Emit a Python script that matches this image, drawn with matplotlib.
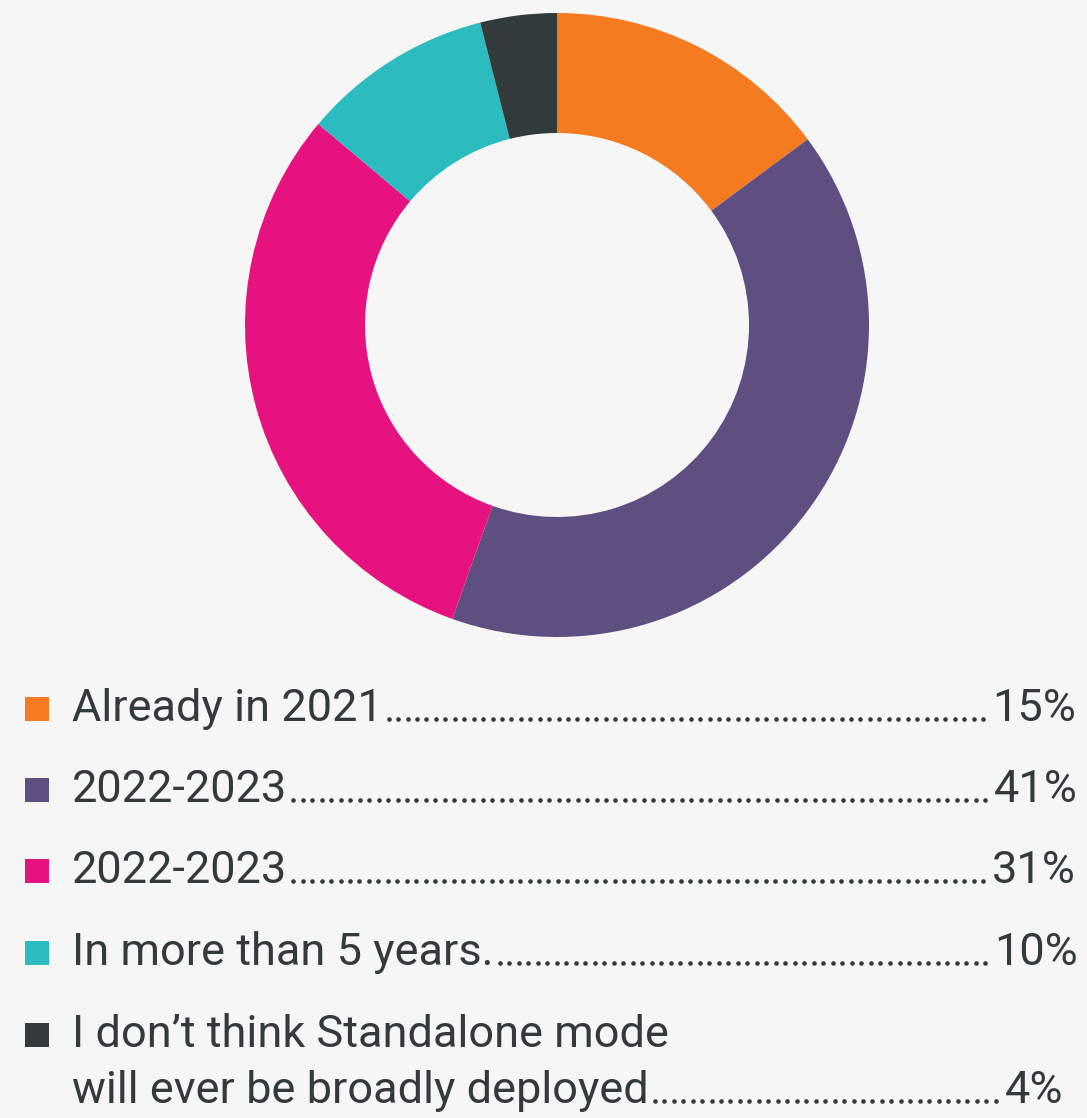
import matplotlib
matplotlib.use("Agg")
import numpy as np
import matplotlib.pyplot as plt
from matplotlib.patches import Rectangle

# data
labels = ["Already in 2021", "2022-2023", "2022-2023", "In more than 5 years.",
          "I don\u2019t think Standalone mode\nwill ever be broadly deployed"]
values = [15, 41, 31, 10, 4]
pct_labels = ["15%", "41%", "31%", "10%", "4%"]
colors = ["#F47B20", "#5E4F80", "#E5127F", "#2CBCC0", "#333A3B"]

W, H = 1087, 1118
bg = "#F6F6F6"
txt_col = "#333A3B"
plt.rcParams['font.family'] = ['Roboto', 'DejaVu Sans']

fig = plt.figure(figsize=(W / 100, H / 100), dpi=100, facecolor=bg)

# donut
cx, cy, r_out, r_in = 557, 325, 312, 192
ax = fig.add_axes([(cx - r_out) / W, (H - cy - r_out) / H, 2 * r_out / W, 2 * r_out / H])
ax.pie(values, colors=colors, startangle=90, counterclock=False,
       radius=1, wedgeprops=dict(width=1 - r_in / r_out, linewidth=0))
ax.set_xlim(-1, 1)
ax.set_ylim(-1, 1)
ax.set_aspect('equal')
ax.axis('off')

# legend in pixel coordinates
lg = fig.add_axes([0, 0, 1, 1])
lg.set_xlim(0, W)
lg.set_ylim(H, 0)
lg.axis('off')
lg.patch.set_alpha(0)

baselines = [721, 802, 883, 965, 1047]
pct_right = [1076, 1078, 1076, 1078, 1063]
line_gap = 56
fs = 32.5
texts = []
for i, (lab, pct, col) in enumerate(zip(labels, pct_labels, colors)):
    b = baselines[i]
    lg.add_patch(Rectangle((25, b - 24), 24, 24, color=col, lw=0))
    lines = lab.split("\n")
    last = None
    for j, ln in enumerate(lines):
        last = lg.text(72, b + j * line_gap, ln, fontsize=fs, color=txt_col,
                       ha='left', va='baseline')
    p = lg.text(pct_right[i], b + (len(lines) - 1) * line_gap, pct, fontsize=fs,
                color=txt_col, ha='right', va='baseline')
    texts.append((last, p, b + (len(lines) - 1) * line_gap))

# dotted leaders between label and percentage
fig.canvas.draw()
rend = fig.canvas.get_renderer()
inv = lg.transData.inverted()
for t, p, b in texts:
    e1 = t.get_window_extent(rend)
    e2 = p.get_window_extent(rend)
    x0 = inv.transform((e1.x1, 0))[0] + 6
    x1 = inv.transform((e2.x0, 0))[0] - 9
    n = int(round((x1 - x0) / 9.5)) + 1
    xs = np.linspace(x0, x1, n)
    lg.plot(xs, np.full(n, b - 2.5), 'o', color=txt_col, ms=3.3, mew=0)

fig.savefig("out.png", dpi=100, facecolor=bg)
